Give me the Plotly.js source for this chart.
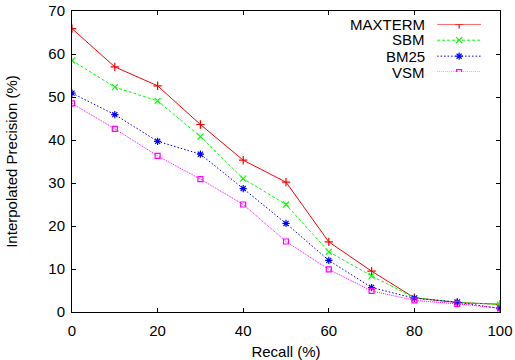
<!DOCTYPE html>
<html>
<head>
<meta charset="utf-8">
<script src="https://cdn.plot.ly/plotly-3.0.1.min.js"></script>
<style>html,body{margin:0;padding:0;background:#fff;}#chart{width:515px;height:360px;}</style>
</head>
<body>
<div id="chart"></div>
<script>
const recall = [0, 10, 20, 30, 40, 50, 60, 70, 80, 90, 100];
const seriesNames = ["MAXTERM", "SBM", "BM25", "VSM"];
const maxterm = [65.9, 57.0, 52.6, 43.6, 35.3, 30.2, 16.3, 9.5, 3.3, 2.2, 1.8];
const sbm     = [58.5, 52.3, 49.1, 40.8, 31.0, 25.0, 14.0, 8.4, 3.3, 2.3, 1.7];
const bm25    = [50.9, 45.9, 39.7, 36.7, 28.7, 20.6, 12.0, 5.7, 3.2, 2.3, 0.8];
const vsm     = [48.5, 42.6, 36.3, 30.9, 25.0, 16.4, 9.9, 4.9, 2.7, 1.9, 0.9];
const xTicks = [0, 20, 40, 60, 80, 100];
const yTicks = [0, 10, 20, 30, 40, 50, 60, 70];

const colors = ["#ff0000", "#00ff00", "#0000ff", "#ff00ff"];
const dashes = ["solid", "3px,2px", "1.5px,2px", "1px,1px"];
const symbols = ["cross-thin-open", "x-thin-open", "asterisk-open", "square-open"];
const msizes = [6, 6, 6, 5];
const values = [maxterm, sbm, bm25, vsm];

const traces = values.map((v, i) => ({
  x: recall, y: v, type: "scatter", mode: "lines+markers",
  name: seriesNames[i], showlegend: false,
  line: {color: colors[i], width: 1, dash: dashes[i]},
  marker: {symbol: symbols[i], size: msizes[i], color: colors[i], line: {color: colors[i], width: 1.2}}
}));

// legend key samples on an overlay axis (row index 0..3)
values.forEach((v, i) => {
  traces.push({
    x: [0, 1], y: [i, i], xaxis: "x2", yaxis: "y2",
    type: "scatter", mode: "lines", showlegend: false, hoverinfo: "skip",
    line: {color: colors[i], width: 1, dash: dashes[i]}
  });
  traces.push({
    x: [0.5], y: [i], xaxis: "x2", yaxis: "y2",
    type: "scatter", mode: "markers", showlegend: false, hoverinfo: "skip",
    marker: {symbol: symbols[i], size: msizes[i], color: colors[i], line: {color: colors[i], width: 1.2}}
  });
});

const font = {family: "Liberation Sans, Arial, Helvetica, sans-serif", size: 15, color: "#000"};
const legendY = [0.956, 0.905, 0.850, 0.797];
const annotations = seriesNames.map((n, i) => ({
  text: n, xref: "paper", yref: "paper", x: 0.829, y: legendY[i],
  xanchor: "right", yanchor: "middle", showarrow: false, font: font
}));

const layout = {
  width: 515, height: 360,
  margin: {l: 72, r: 15, t: 11, b: 48},
  paper_bgcolor: "#fff", plot_bgcolor: "#fff",
  font: font,
  showlegend: false,
  annotations: annotations,
  xaxis: {
    range: [0, 100], tickvals: xTicks, ticktext: xTicks.map(String),
    showline: true, linecolor: "#000", linewidth: 1, mirror: "ticks",
    ticks: "inside", ticklen: 4, tickcolor: "#000", showgrid: false, zeroline: false,
    ticklabelstandoff: 5,
    title: {text: "Recall (%)", font: font, standoff: 12}
  },
  yaxis: {
    range: [0, 70], tickvals: yTicks, ticktext: yTicks.map(String),
    showline: true, linecolor: "#000", linewidth: 1, mirror: "ticks",
    ticks: "inside", ticklen: 4, tickcolor: "#000", showgrid: false, zeroline: false,
    ticklabelstandoff: 3,
    title: {text: "Interpolated Precision (%)", font: font, standoff: 27}
  },
  xaxis2: {domain: [0.853, 0.956], range: [0, 1], anchor: "y2", visible: false, fixedrange: true},
  yaxis2: {domain: [0.797, 0.956], range: [3, 0], anchor: "x2", visible: false, fixedrange: true}
};
Plotly.newPlot("chart", traces, layout, {displayModeBar: false, staticPlot: true});
</script>
</body>
</html>
